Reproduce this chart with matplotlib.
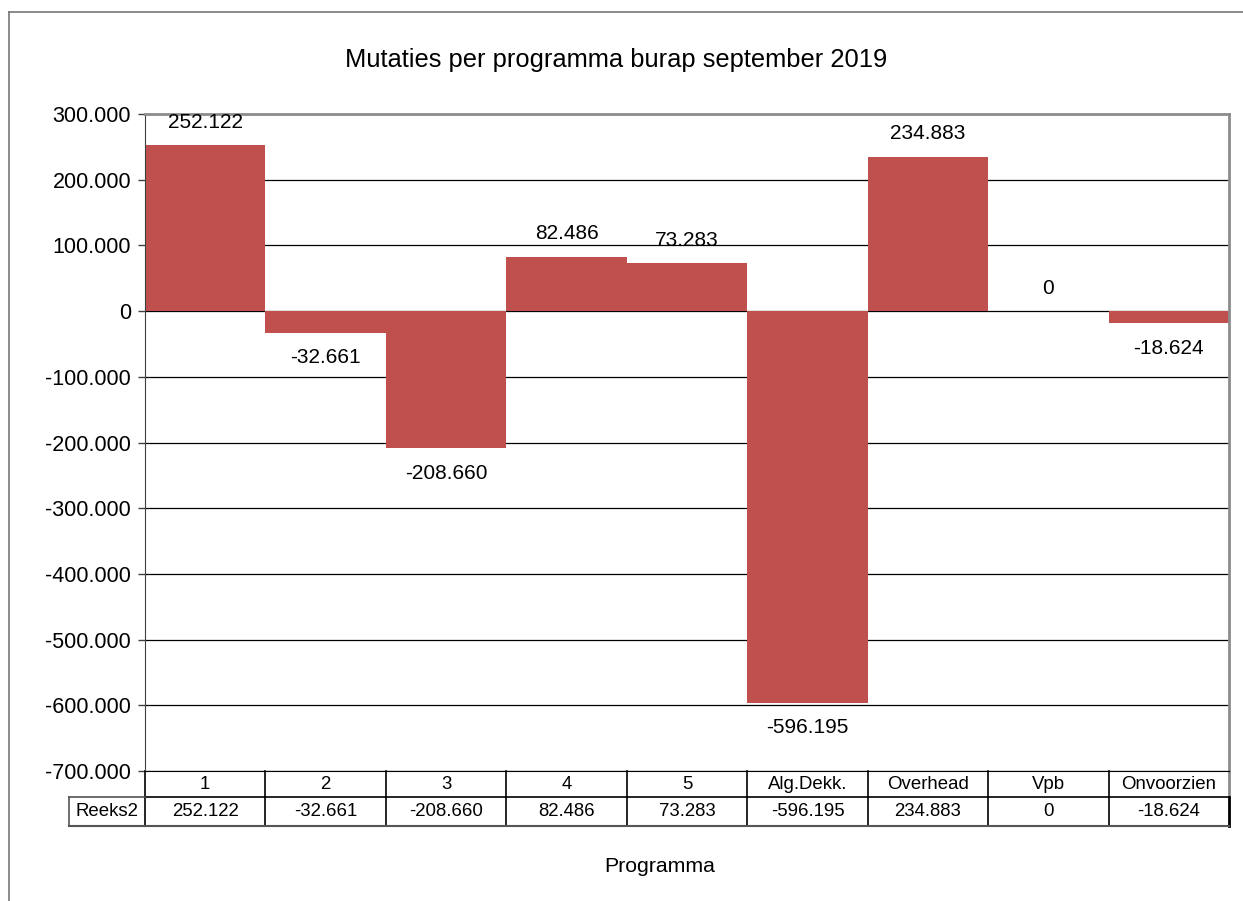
import matplotlib
matplotlib.use("Agg")
import matplotlib.pyplot as plt
from matplotlib.lines import Line2D
from matplotlib.ticker import FuncFormatter, MultipleLocator

plt.rcParams['font.family'] = ['Liberation Sans', 'DejaVu Sans']

categories = ["1", "2", "3", "4", "5", "Alg.Dekk.", "Overhead", "Vpb", "Onvoorzien"]
values = [252122, -32661, -208660, 82486, 73283, -596195, 234883, 0, -18624]
series_name = "Reeks2"
title = "Mutaties per programma burap september 2019"
xlabel = "Programma"


def nl(v):
    return f"{v:,.0f}".replace(",", ".")


fig = plt.figure(figsize=(12.43, 9.01), dpi=100)
ax = fig.add_axes([0.11665, 0.14428, 0.87209, 0.72919])

x = list(range(len(categories)))
ax.bar(x, values, width=1.0, color="#C0504D", zorder=2)
ax.set_xlim(-0.5, len(categories) - 0.5)
ax.set_ylim(-700000, 300000)
ax.yaxis.set_major_locator(MultipleLocator(100000))
ax.yaxis.set_major_formatter(FuncFormatter(lambda v, p: nl(v)))
ax.grid(axis="y", color="black", linewidth=0.9, zorder=1)
ax.set_xticks([])
ax.tick_params(axis="y", labelsize=15.5, length=5, width=1, color="#404040", pad=5)

for s in ["top", "right"]:
    ax.spines[s].set_color("#8c8c8c")
    ax.spines[s].set_linewidth(2)
ax.spines["left"].set_color("#404040")
ax.spines["bottom"].set_color("black")

# data labels
for xi, v in zip(x, values):
    if v >= 0:
        ax.annotate(nl(v), (xi, v), xytext=(0, 16.5), textcoords="offset points",
                    ha="center", va="center", fontsize=15)
    else:
        ax.annotate(nl(v), (xi, v), xytext=(0, -18), textcoords="offset points",
                    ha="center", va="center", fontsize=15)

# data table under the axis
trans = ax.get_xaxis_transform()
row_h = 26 / 657
r1 = -row_h
r2 = -(55 / 657)
n = len(categories)
for i, (c, v) in enumerate(zip(categories, values)):
    ax.text(i, (0 + r1) / 2, c, transform=trans, ha="center", va="center", fontsize=13.4)
    ax.text(i, (r1 + r2) / 2, nl(v), transform=trans, ha="center", va="center", fontsize=13.4)
for b in range(n + 1):
    xb = b - 0.5
    col = "#8c8c8c" if b == n else "black"
    ax.add_line(Line2D([xb, xb], [0, r1], transform=trans, color=col,
                       linewidth=2 if b == n else 1.2, clip_on=False))
    ax.add_line(Line2D([xb, xb], [r1, r2], transform=trans, color="black",
                       linewidth=2 if b == n else 1.2, clip_on=False))
ax.add_line(Line2D([-0.5, n - 0.5], [r1, r1], transform=trans, color="black", lw=1.2, clip_on=False))
ax.add_line(Line2D([-0.5, n - 0.5], [r2, r2], transform=trans, color="#555555", lw=1.5, clip_on=False))

# series name cell
lab_w = 76 / 1084 * n
ax.add_line(Line2D([-0.5 - lab_w, -0.5], [r1, r1], transform=trans, color="#555555", lw=1.2, clip_on=False))
ax.add_line(Line2D([-0.5 - lab_w, -0.5], [r2, r2], transform=trans, color="#555555", lw=1.5, clip_on=False))
ax.add_line(Line2D([-0.5 - lab_w, -0.5 - lab_w], [r1, r2], transform=trans, color="#555555", lw=1.2, clip_on=False))
ax.text(-0.5 - lab_w / 2, (r1 + r2) / 2, series_name, transform=trans,
        ha="center", va="center", fontsize=13.4)

fig.text(0.496, 0.9334, title, ha="center", va="center", fontsize=18.4)
fig.text(0.531, 0.0388, xlabel, ha="center", va="center", fontsize=15.3)

# chart border (cut off at the right and bottom)
fig.add_artist(Line2D([9 / 1243, 9 / 1243], [0, 1 - 12 / 901], color="#777777", lw=1.2))
fig.add_artist(Line2D([9 / 1243, 1], [1 - 12 / 901, 1 - 12 / 901], color="#777777", lw=1.2))

fig.savefig("out.png", dpi=100)
